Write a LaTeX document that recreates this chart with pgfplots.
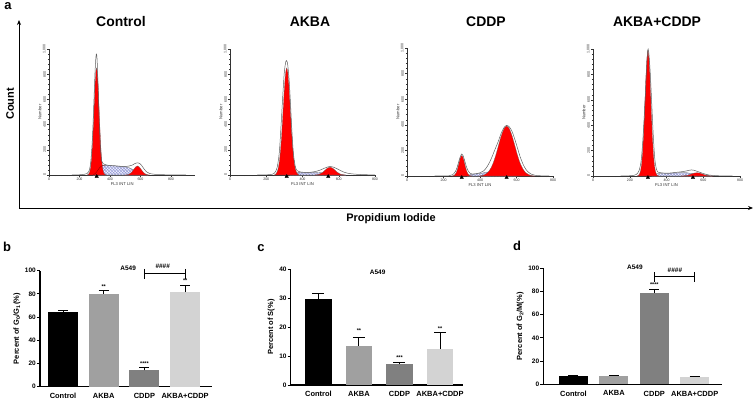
\documentclass[border=0pt]{standalone}
\usepackage{fontspec}
\setmainfont{Liberation Sans}
\usepackage{pgfplots}
\pgfplotsset{compat=1.18}
\usetikzlibrary{patterns,arrows.meta}

\definecolor{cAKBA}{HTML}{A0A0A0}
\definecolor{cCDDP}{HTML}{808080}
\definecolor{cBOTH}{HTML}{D3D3D3}
\definecolor{shatch}{HTML}{8C92D0}

\tikzset{
  star/.style={font=\bfseries\fontsize{5.5}{5.5}\selectfont},
  bigl/.style={font=\bfseries\fontsize{13}{13}\selectfont},
  ttl/.style={font=\bfseries\fontsize{14}{14}\selectfont},
  sml/.style={font=\bfseries\fontsize{6.5}{7}\selectfont},
}

\pgfplotsset{
  hist/.style={
    scale only axis, anchor=south west,
    axis lines=left, axis line style={-, line width=0.4pt, black!80},
    xmin=0, xmax=800, ymin=0, ymax=1000,
    xtick={0,200,...,800}, ytick={0,200,...,1000},
    minor x tick num=4, minor y tick num=4,
    tick align=outside, major tick length=2bp, minor tick length=1.2bp,
    tick style={line width=0.3pt, black!80},
    ticklabel style={font=\fontsize{3.6}{4}\selectfont, text=black!80, inner sep=1pt},
    yticklabel style={rotate=90, anchor=south},
    xlabel={FL3 INT LIN}, ylabel={Number},
    label style={font=\fontsize{4.2}{5}\selectfont, text=black!80},
    xlabel style={yshift=3bp}, ylabel style={yshift=-3bp},
    /pgf/number format/assume math mode=true,
    clip=false,
  },
  redpk/.style={fill=red, draw=black!60, line width=0.2pt, smooth},
  sph/.style={draw=black!50, line width=0.2pt, fill=blue!6,
    postaction={pattern=crosshatch, pattern color=shatch}, smooth},
  outl/.style={gray!75!black, line width=0.5pt, smooth},
  tri/.style={only marks, mark=triangle*, mark size=2bp, black},
  bars/.style={
    scale only axis, anchor=south west,
    axis lines=left, axis line style={-, line width=1.1bp},
    ymin=0,
    xtick={0,1,2,3}, xticklabels={Control,AKBA,CDDP,AKBA+CDDP},
    x tick style={draw=none},
    y tick style={line width=1bp, black}, major tick length=3bp, tick align=outside,
    yticklabel style={font=\bfseries\fontsize{6.5}{7}\selectfont, inner sep=1pt},
    xticklabel style={font=\bfseries\fontsize{7.5}{8}\selectfont},
    ylabel style={font=\bfseries\fontsize{7.5}{8}\selectfont},
    /pgf/number format/assume math mode=true,
    clip=false,
    error bars/y dir=plus, error bars/y explicit,
    error bars/error bar style={line width=1bp, black},
    error bars/error mark options={rotate=90, line width=1bp, mark size=5bp, black},
  },
}

\begin{document}
\begin{tikzpicture}
\path[use as bounding box] (0,0) rectangle (756bp,-400bp);

% panel a frame
\node[bigl] at (8bp,-6bp) {a};
\draw[line width=0.9bp, -{Stealth[length=5bp,width=4bp]}] (19bp,-208bp) -- (19bp,-20bp);
\draw[line width=0.9bp, -{Stealth[length=5bp,width=4bp]}] (19bp,-208bp) -- (753bp,-208bp);
\node[rotate=90, font=\bfseries\fontsize{11}{11}\selectfont] at (10bp,-104bp) {Count};
\node[font=\bfseries\fontsize{11}{11}\selectfont] at (391bp,-219bp) {Propidium Iodide};

\node[ttl] at (121bp,-22bp) {Control};
\node[ttl] at (310bp,-22bp) {AKBA};
\node[ttl] at (486bp,-22bp) {CDDP};
\node[ttl] at (657bp,-22bp) {AKBA+CDDP};

% Control histogram
\begin{axis}[hist, at={(49bp,-175bp)}, width=146.4bp, height=126bp, xmax=960]
\addplot[sph] coordinates {(290,0)(310,20)(330,55)(350,75)(380,78)(420,74)(460,70)(500,65)(530,55)(560,35)(590,15)(620,4)(650,0)} \closedcycle;
\addplot[redpk] coordinates {(250,0)(262,11)(272,53)(282,179)(292,425)(300,663)(306,799)(312,850)(318,799)(324,663)(332,425)(342,179)(352,53)(362,11)(375,0)} \closedcycle;
\addplot[redpk] coordinates {(500,0)(510,1)(520,4)(530,10)(540,20)(550,35)(560,52)(570,66)(580,72)(590,66)(600,52)(610,35)(620,20)(630,10)(640,4)(650,1)(660,0)} \closedcycle;
\addplot[draw=red!50!black, line width=0.3pt, smooth] coordinates {(290,0)(310,20)(330,55)(350,75)(370,78)};
\addplot[outl] coordinates {(150,0)(200,2)(230,5)(250,12)(265,40)(275,120)(285,300)(295,600)(302,820)(308,940)(312,960)(316,900)(322,700)(330,400)(338,200)(346,110)(355,90)(370,82)(400,75)(430,72)(460,70)(490,68)(520,70)(545,78)(565,92)(580,97)(595,92)(610,72)(625,45)(640,25)(660,12)(690,6)(730,3)(800,1)(900,0)};
\addplot[tri] coordinates {(313,-12)};
\end{axis}

% AKBA histogram
\begin{axis}[hist, at={(230bp,-175bp)}, width=145bp, height=126bp]
\addplot[sph] coordinates {(330,0)(350,15)(380,22)(420,20)(460,20)(500,18)(530,12)(560,6)(600,2)(640,0)} \closedcycle;
\addplot[redpk] coordinates {(245,0)(253,9)(263,37)(273,115)(283,276)(293,516)(301,710)(307,813)(313,850)(319,813)(325,710)(333,516)(343,276)(353,115)(363,37)(373,9)(381,0)} \closedcycle;
\addplot[redpk] coordinates {(470,0)(482,3)(492,6)(502,13)(512,22)(522,35)(532,48)(542,58)(552,62)(562,58)(572,48)(582,35)(592,22)(602,13)(612,6)(622,3)(635,0)} \closedcycle;
\addplot[outl] coordinates {(150,0)(220,3)(245,15)(260,60)(272,180)(282,400)(292,650)(300,820)(308,900)(313,905)(318,880)(326,760)(334,560)(342,340)(350,170)(360,70)(370,35)(385,25)(400,22)(430,20)(460,25)(490,35)(515,50)(535,62)(552,68)(570,63)(590,50)(610,35)(630,22)(650,14)(680,8)(720,4)(780,1)(800,0)};
\addplot[tri] coordinates {(313,-12)(542,-12)};
\end{axis}

% CDDP histogram
\begin{axis}[hist, at={(407bp,-176bp)}, width=146bp, height=128bp]
\addplot[sph] coordinates {(330,0)(350,12)(380,17)(410,22)(440,30)(470,35)(500,30)(530,20)(560,8)(600,0)} \closedcycle;
\addplot[redpk] coordinates {(244,0)(252,2)(260,7)(268,22)(276,52)(284,97)(292,141)(300,160)(308,141)(316,97)(324,52)(332,22)(340,7)(348,2)(356,0)} \closedcycle;
\addplot[redpk] coordinates {(396,0)(411,4)(426,11)(441,26)(456,53)(471,97)(486,160)(501,237)(516,312)(531,369)(546,390)(561,369)(576,312)(591,237)(606,160)(621,97)(636,53)(651,26)(666,11)(681,4)(700,0)} \closedcycle;
\addplot[outl] coordinates {(150,0)(230,2)(250,10)(265,35)(275,70)(285,120)(293,155)(300,172)(307,160)(315,125)(325,75)(335,40)(345,22)(360,15)(380,18)(400,25)(420,40)(440,75)(460,130)(480,200)(500,270)(515,330)(530,375)(545,395)(560,385)(575,350)(590,290)(605,220)(620,150)(635,95)(650,55)(665,30)(680,15)(700,6)(730,2)(780,0)};
\addplot[tri] coordinates {(300,-12)(546,-12)};
\end{axis}

% AKBA+CDDP histogram
\begin{axis}[hist, at={(593bp,-176bp)}, width=147bp, height=127bp]
\addplot[sph] coordinates {(320,0)(340,15)(370,20)(420,22)(470,25)(510,25)(540,18)(570,10)(610,3)(650,0)} \closedcycle;
\addplot[redpk] coordinates {(240,0)(251,11)(259,44)(267,134)(275,322)(283,601)(291,873)(299,990)(307,873)(315,601)(323,322)(331,134)(339,44)(347,11)(358,0)} \closedcycle;
\addplot[redpk] coordinates {(480,0)(491,1)(506,4)(521,8)(536,16)(551,23)(566,26)(581,23)(596,16)(611,8)(626,4)(641,1)(655,0)} \closedcycle;
\addplot[outl] coordinates {(150,0)(210,3)(235,12)(250,40)(262,120)(272,300)(282,560)(290,800)(296,960)(300,1000)(305,950)(312,800)(320,560)(328,320)(336,140)(345,55)(355,30)(375,25)(400,22)(430,25)(460,30)(490,35)(515,42)(535,48)(550,45)(570,35)(590,25)(610,15)(630,8)(660,4)(700,1)(760,0)};
\addplot[tri] coordinates {(299,-12)(544,-12)};
\end{axis}

% panel b
\node[bigl] at (7bp,-247bp) {b};
\begin{axis}[bars, at={(40bp,-386.7bp)}, width=172bp, height=116bp,
  xmin=-0.566, xmax=3.66, ymax=100, ytick={0,20,...,100},
  ylabel={Percent of G\textsubscript{0}/G\textsubscript{1}(\%)}]
\addplot[ybar, bar width=30bp, fill=black, draw=none] coordinates {(0,64.5) +- (0,1)};
\addplot[ybar, bar width=30bp, fill=cAKBA, draw=none] coordinates {(1,80.2) +- (0,2.6)};
\addplot[ybar, bar width=30bp, fill=cCDDP, draw=none] coordinates {(2,14) +- (0,2.6)};
\addplot[ybar, bar width=30bp, fill=cBOTH, draw=none] coordinates {(3,81.5) +- (0,6)};
\node[star] at (axis cs:1,86.5) {**};
\node[star] at (axis cs:2,19.8) {****};
\node[star] at (axis cs:3,91.2) {**};
\node[sml] at (axis cs:1.6,102.5) {A549};
\node[sml] at (axis cs:2.45,103.5) {\#\#\#\#};
\draw[line width=1.2bp] (axis cs:2,97.8) -- (axis cs:3,97.8);
\draw[line width=1.2bp] (axis cs:2,101.5) -- (axis cs:2,93);
\draw[line width=1.2bp] (axis cs:3,101.5) -- (axis cs:3,93);
\end{axis}

% panel c
\node[bigl] at (261bp,-248bp) {c};
\begin{axis}[bars, at={(290.7bp,-385bp)}, width=172.3bp, height=116bp,
  xmin=-0.686, xmax=3.568, ymax=40, ytick={0,10,...,40},
  error bars/error mark options={rotate=90, line width=1bp, mark size=6bp, black},
  ylabel={Percent of S(\%)}]
\addplot[ybar, bar width=26.5bp, fill=black, draw=none] coordinates {(0,29.5) +- (0,2)};
\addplot[ybar, bar width=26.5bp, fill=cAKBA, draw=none] coordinates {(1,13.5) +- (0,3)};
\addplot[ybar, bar width=26.5bp, fill=cCDDP, draw=none] coordinates {(2,7.2) +- (0,0.6)};
\addplot[ybar, bar width=26.5bp, fill=cBOTH, draw=none] coordinates {(3,12.5) +- (0,5.5)};
\node[star] at (axis cs:1,18.6) {**};
\node[star] at (axis cs:2,9.5) {***};
\node[star] at (axis cs:3,19.6) {**};
\node[sml] at (axis cs:1.46,39) {A549};
\end{axis}

% panel d
\node[bigl] at (517bp,-246bp) {d};
\begin{axis}[bars, at={(543.3bp,-384.3bp)}, width=178.4bp, height=116bp,
  xmin=-0.747, xmax=3.668, ymax=100, ytick={0,20,...,100},
  ylabel={Percent of G\textsubscript{2}/M(\%)}]
\addplot[ybar, bar width=29bp, fill=black, draw=none] coordinates {(0,7) +- (0,1)};
\addplot[ybar, bar width=29bp, fill=cAKBA, draw=none] coordinates {(1,7.2) +- (0,0.8)};
\addplot[ybar, bar width=29bp, fill=cCDDP, draw=none] coordinates {(2,79) +- (0,3)};
\addplot[ybar, bar width=29bp, fill=cBOTH, draw=none] coordinates {(3,6.5) +- (0,0.5)};
\node[star] at (axis cs:2,85.8) {****};
\node[sml] at (axis cs:1.52,101) {A549};
\node[sml] at (axis cs:2.51,98.3) {\#\#\#\#};
\draw[line width=1.2bp] (axis cs:2,92.8) -- (axis cs:3,92.8);
\draw[line width=1.2bp] (axis cs:2,96.5) -- (axis cs:2,88.5);
\draw[line width=1.2bp] (axis cs:3,96.5) -- (axis cs:3,88.5);
\end{axis}
\end{tikzpicture}
\end{document}
